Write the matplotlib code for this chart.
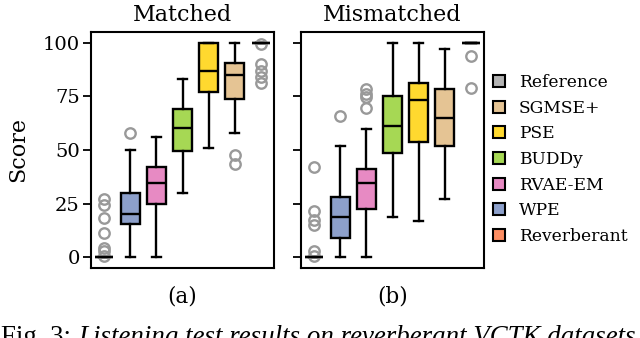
import matplotlib
matplotlib.use('Agg')
import matplotlib.pyplot as plt
from matplotlib.patches import Patch

methods = ['Reverberant', 'WPE', 'RVAE-EM', 'BUDDy', 'PSE', 'SGMSE+', 'Reference']
colors = ['#fc8d62', '#8da0cb', '#e78ac3', '#a6d854', '#ffd92f', '#e5c494', '#b3b3b3']

# matched
m_whislo = [0, 0, 0, 30, 51, 58, 100]
m_q1 = [0, 15.5, 24.7, 49.6, 77, 73.7, 100]
m_med = [0, 20, 34.6, 60.2, 87, 85, 100]
m_q3 = [0, 30, 42, 69.2, 100, 90.4, 100]
m_whishi = [0, 50, 56, 83, 100, 100, 100]
m_fliers = [[27, 24.5, 18.3, 11.3, 4.4, 2.8, 0.5], [58], [], [], [], [47.8, 43.6],
            [99.5, 90, 87, 84, 81]]

# mismatched
mm_whislo = [0, 0, 0, 19, 17, 27, 100]
mm_q1 = [0, 8.8, 22.5, 48.5, 53.6, 52, 100]
mm_med = [0, 19, 34.6, 61.2, 73.3, 65, 100]
mm_q3 = [0, 28, 41, 75.2, 81, 78.4, 100]
mm_whishi = [0, 52, 60, 100, 100, 97, 100]
mm_fliers = [[42.3, 21.4, 17.5, 15.2, 2.8, 0.5], [66], [78.4, 76, 74.5, 69.5], [], [], [],
             [94, 79]]

plt.rcParams['font.family'] = 'DejaVu Serif'


def make_stats(lo, q1, med, q3, hi, fl):
    return [dict(whislo=a, q1=b, med=c, q3=d, whishi=e, fliers=f)
            for a, b, c, d, e, f in zip(lo, q1, med, q3, hi, fl)]


def draw(ax, stats, title):
    bp = ax.bxp(stats, showfliers=True, widths=0.72, patch_artist=True,
                boxprops=dict(linewidth=1.7, edgecolor='black'),
                medianprops=dict(color='black', linewidth=1.7),
                whiskerprops=dict(linewidth=1.7),
                capprops=dict(linewidth=1.7),
                flierprops=dict(marker='o', markerfacecolor='none',
                                markeredgecolor='#999999', markersize=7.5,
                                markeredgewidth=1.7))
    for patch, c in zip(bp['boxes'], colors):
        patch.set_facecolor(c)
    ax.set_xlim(0.5, 7.5)
    ax.set_ylim(-5, 105)
    ax.set_yticks([0, 25, 50, 75, 100])
    ax.set_xticks([])
    ax.tick_params(axis='y', length=6, width=1.3, labelsize=14, pad=2)
    for s in ax.spines.values():
        s.set_linewidth(1.5)
    ax.set_title(title, fontsize=16, pad=8)


fig = plt.figure(figsize=(6.4, 3.38), dpi=100)
ax1 = fig.add_axes([91/640, 70/338, 183/640, 236/338])
ax2 = fig.add_axes([301/640, 70/338, 183/640, 236/338])

draw(ax1, make_stats(m_whislo, m_q1, m_med, m_q3, m_whishi, m_fliers), 'Matched')
draw(ax2, make_stats(mm_whislo, mm_q1, mm_med, mm_q3, mm_whishi, mm_fliers), 'Mismatched')
ax2.set_yticklabels([])
ax1.set_ylabel('Score', fontsize=16)
ax1.yaxis.set_label_coords(-0.34, 0.5)

fig.text(182.5/640, 1 - 297/338, '(a)', ha='center', va='center', fontsize=15.5)
fig.text(392.5/640, 1 - 297/338, '(b)', ha='center', va='center', fontsize=15.5)

handles = [Patch(facecolor=c, edgecolor='black', linewidth=1.5, label=m)
           for m, c in zip(methods, colors)][::-1]
fig.legend(handles=handles, loc='center left', bbox_to_anchor=(493/640, 1 - 159.5/338),
           frameon=False, fontsize=12.3, handlelength=0.7, handleheight=0.7,
           handletextpad=0.8, labelspacing=0.5, borderpad=0, borderaxespad=0)

# caption, cut at the bottom edge like the source crop
t1 = fig.text(0.002, -0.018, 'Fig. 3: ', fontsize=19.4, family='Liberation Serif', va='baseline')
r = fig.canvas.get_renderer()
bb = t1.get_window_extent(r)
fig.text(bb.x1 / 640, -0.018, 'Listening test results on reverberant VCTK datasets',
         fontsize=19.4, family='Liberation Serif', style='italic', va='baseline')

fig.savefig('out.png', dpi=100)
